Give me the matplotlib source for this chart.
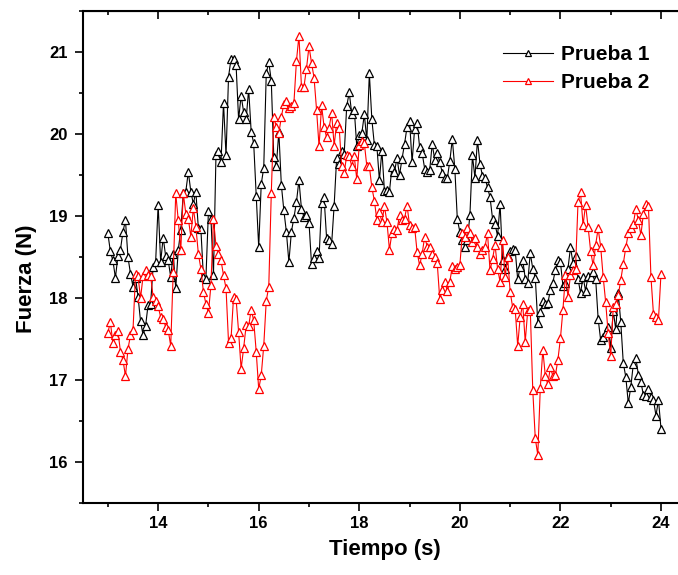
import matplotlib

matplotlib.use("Agg")
import matplotlib.pyplot as plt
import numpy as np
from matplotlib.ticker import MultipleLocator

plt.rcParams["font.family"] = ["Liberation Sans", "DejaVu Sans"]

# sampling time (s), one point every 0.05 s
TIEMPO = np.round(13.0 + 0.05 * np.arange(221), 2)

PRUEBA_1 = [
    # 13.00 - 15.10
    18.79, 18.57, 18.46, 18.25, 18.51, 18.59, 18.81, 18.95, 18.50, 18.30,
    18.14, 18.25, 18.02, 17.72, 17.55, 17.66, 17.92, 17.93, 18.38, 18.44,
    19.14, 18.44, 18.74, 18.51, 18.46, 18.26, 18.54, 18.12, 18.59, 18.83,
    19.28, 19.30, 19.54, 19.30, 19.15, 19.30, 18.85, 18.84, 18.26, 18.24,
    19.06, 18.97, 18.28,
    # 15.15 - 16.85
    19.74, 19.80, 19.66, 20.38, 19.74, 20.70, 20.92, 20.91, 20.84, 20.18,
    20.47, 20.27, 20.18, 20.55, 20.03, 19.89, 19.25, 18.62, 19.39, 19.59,
    20.74, 20.88, 20.65, 19.72, 19.61, 20.03, 19.38, 19.07, 18.81, 18.44,
    18.81, 18.98, 19.17, 19.44, 19.09,
    # 16.90 - 18.90
    18.99, 19.01, 18.92, 18.42, 18.49, 18.58, 18.49, 19.16, 19.23, 18.73,
    18.71, 18.66, 19.13, 19.71, 19.63, 19.80, 19.76, 20.34, 20.51, 20.25,
    20.30, 19.85, 19.99, 20.01, 20.24, 19.93, 20.74, 20.18, 19.87, 19.85,
    19.44, 19.80, 19.31, 19.32, 19.30, 19.60, 19.54, 19.71, 19.50, 19.70,
    19.88,
    # 18.95 - 20.85
    20.09, 20.16, 19.66, 20.06, 20.14, 19.84, 19.77, 19.58, 19.54, 19.56,
    19.88, 19.69, 19.77, 19.66, 19.53, 19.46, 19.46, 19.67, 19.94, 19.58,
    18.96, 18.81, 18.71, 18.63, 18.71, 19.01, 19.74, 19.47, 19.93, 19.64,
    19.49, 19.47, 19.35, 19.23, 18.97, 18.90, 18.76, 19.15, 18.46,
    # 20.90 - 22.65
    18.36, 18.52, 18.58, 18.60, 18.59, 18.23, 18.38, 18.47, 18.24, 18.19,
    18.55, 18.36, 18.25, 17.70, 17.83, 17.96, 17.93, 17.94, 18.10, 18.19,
    18.35, 18.46, 18.44, 18.15, 18.19, 18.36, 18.62, 18.43, 18.52, 18.24,
    18.06, 18.26, 18.09, 18.27, 18.26, 18.32,
    # 22.70 - 24.00
    18.24, 17.75, 17.49, 17.53, 17.59, 17.65, 17.39, 17.85, 17.62, 18.06,
    17.71, 17.21, 17.04, 16.72, 16.92, 17.20, 17.27, 17.07, 16.98, 16.82,
    16.81, 16.89, 16.80, 16.76, 16.57, 16.76, 16.41,
]

PRUEBA_2 = [
    # 13.00 - 15.10
    17.58, 17.71, 17.45, 17.55, 17.60, 17.35, 17.25, 17.05, 17.38, 17.55,
    17.61, 18.29, 18.27, 18.00, 18.27, 18.35, 18.28, 18.27, 18.02, 17.96,
    17.90, 17.77, 17.75, 17.65, 17.61, 17.42, 18.32, 19.28, 18.95, 18.59,
    19.28, 19.03, 18.97, 18.75, 19.10, 18.87, 18.54, 18.36, 18.08, 17.93,
    17.82, 18.16, 18.97,
    # 15.15 - 16.85
    18.64, 18.54, 18.46, 18.28, 18.12, 17.46, 17.51, 18.02, 17.99, 17.59,
    17.14, 17.39, 17.67, 17.66, 17.86, 17.73, 17.35, 16.89, 17.06, 17.42,
    17.97, 18.14, 19.28, 20.21, 20.09, 20.01, 20.21, 20.37, 20.41, 20.32,
    20.34, 20.38, 20.89, 21.20, 20.58,
    # 16.90 - 18.80
    20.58, 20.80, 21.07, 20.87, 20.69, 20.30, 19.85, 20.35, 20.09, 19.96,
    20.08, 20.26, 19.86, 20.14, 20.08, 19.61, 19.53, 19.74, 19.73, 19.61,
    19.73, 19.45, 19.87, 19.92, 19.89, 19.61, 19.61, 19.35, 19.19, 18.95,
    19.05, 18.93, 19.12, 18.93, 18.59, 18.80, 18.84, 18.83, 19.01,
    # 18.85 - 20.85
    18.95, 18.97, 19.13, 18.89, 18.85, 18.87, 18.56, 18.40, 18.54, 18.75,
    18.63, 18.63, 18.54, 18.50, 18.43, 17.99, 18.10, 18.20, 18.09, 18.20,
    18.39, 18.36, 18.38, 18.40, 18.80, 18.75, 18.86, 18.79, 18.69, 18.73,
    18.63, 18.54, 18.59, 18.63, 18.79, 18.34, 18.48, 18.65, 18.36, 18.20,
    18.71,
    # 20.90 - 22.60
    18.26, 18.50, 18.08, 17.89, 17.87, 17.42, 17.77, 17.93, 17.47, 17.85,
    17.87, 16.88, 16.29, 16.09, 16.91, 17.37, 17.05, 16.95, 17.16, 17.05,
    17.06, 17.25, 17.51, 17.86, 18.28, 18.02, 18.28, 18.35, 18.36, 19.17,
    19.29, 18.89, 19.14, 18.87, 18.58,
    # 22.65 - 24.00
    18.40, 18.65, 18.85, 18.63, 18.26, 17.95, 17.57, 17.29, 17.89, 17.93,
    18.04, 18.22, 18.42, 18.62, 18.79, 18.85, 18.91, 19.09, 18.95, 18.77,
    19.03, 19.15, 19.13, 18.26, 17.81, 17.77, 17.74, 18.30,
]

SERIES = [("Prueba 1", PRUEBA_1, "#000000"), ("Prueba 2", PRUEBA_2, "#ff0000")]

fig = plt.figure(figsize=(6.78, 5.75), dpi=100)
ax = fig.add_axes([0.122, 0.1247, 0.890, 0.856])

for label, values, color in SERIES:
    ax.plot(
        TIEMPO,
        values,
        color=color,
        linewidth=0.8,
        marker="^",
        markersize=5.5,
        markerfacecolor="white",
        markeredgecolor=color,
        markeredgewidth=0.9,
        label=label,
    )

ax.set_xlim(12.5, 24.5)
ax.set_ylim(15.5, 21.5)
ax.xaxis.set_major_locator(MultipleLocator(2))
ax.xaxis.set_minor_locator(MultipleLocator(1))
ax.yaxis.set_major_locator(MultipleLocator(1))
ax.yaxis.set_minor_locator(MultipleLocator(0.5))

for side in ax.spines:
    ax.spines[side].set_linewidth(1.5)

ax.tick_params(which="major", direction="out", length=6, width=1.2, labelsize=12, pad=3)
ax.tick_params(which="minor", direction="out", length=3, width=1.2)
ax.tick_params(axis="y", which="major", pad=5)
for lab in ax.get_xticklabels() + ax.get_yticklabels():
    lab.set_fontweight("bold")

# inward ticks on the top and right spines
top = ax.secondary_xaxis("top")
top.xaxis.set_major_locator(MultipleLocator(2))
top.xaxis.set_minor_locator(MultipleLocator(1))
top.tick_params(which="major", direction="in", length=6, width=1.2, labeltop=False)
top.tick_params(which="minor", direction="in", length=3, width=1.2)
right = ax.secondary_yaxis("right")
right.yaxis.set_major_locator(MultipleLocator(1))
right.yaxis.set_minor_locator(MultipleLocator(0.5))
right.tick_params(which="major", direction="in", length=6, width=1.2, labelright=False)
right.tick_params(which="minor", direction="in", length=3, width=1.2)

ax.set_xlabel("Tiempo (s)", fontsize=16, fontweight="bold")
ax.set_ylabel("Fuerza (N)", fontsize=16, fontweight="bold")
ax.xaxis.set_label_coords(0.501, -0.0725)
ax.yaxis.set_label_coords(-0.0757, 0.456)

leg = ax.legend(
    loc="upper left",
    bbox_to_anchor=(503 / 678, 1 - 45 / 575),
    bbox_transform=fig.transFigure,
    frameon=False,
    borderpad=0,
    borderaxespad=0,
    handlelength=2.4,
    handletextpad=0.4,
    labelspacing=0.45,
    markerscale=0.8,
    prop={"size": 15, "weight": "bold"},
)

fig.savefig("out.png", dpi=100)
